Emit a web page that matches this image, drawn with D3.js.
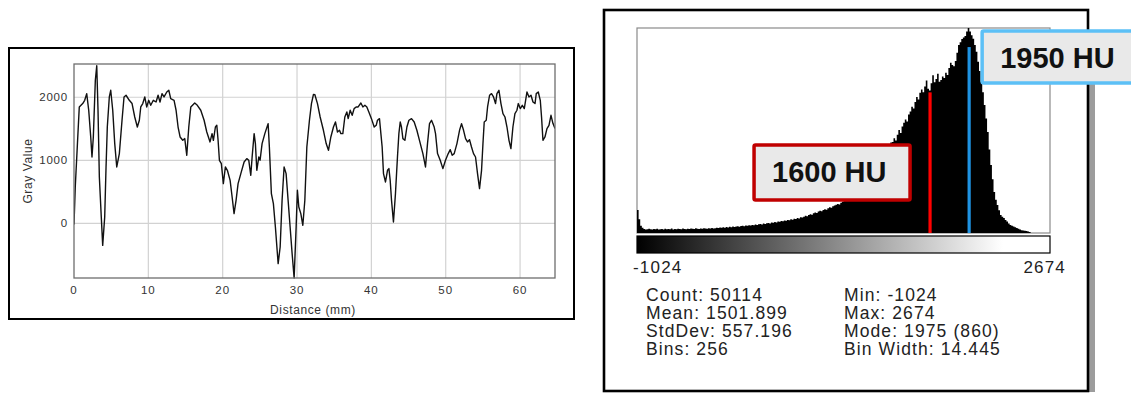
<!DOCTYPE html>
<html>
<head>
<meta charset="utf-8">
<script src="https://cdn.jsdelivr.net/npm/d3@7"></script>
<style>
  body { margin: 0; background: #fff; }
  svg { display: block; font-family: "Liberation Sans", Arial, sans-serif; }
</style>
</head>
<body>
<svg id="chart" width="1131" height="394"></svg>
<script>
// ---- line profile (left panel) ----
const distances = [
  0.00, 0.17, 0.44, 0.71, 1.17, 1.44, 1.71, 1.98, 2.25, 2.42, 2.60, 2.87, 3.06, 3.23, 3.41, 3.67, 3.86, 4.13, 4.31, 4.48,
  4.75, 4.94, 5.21, 5.48, 5.75, 6.10, 6.46, 6.73, 7.00, 7.44, 7.81, 8.17, 8.52, 8.79, 8.98, 9.25, 9.52, 9.78, 10.05, 10.32,
  10.67, 11.04, 11.31, 11.57, 11.84, 12.11, 12.48, 12.75, 13.01, 13.46, 13.73, 14.00, 14.27, 14.63, 14.90, 15.17, 15.44, 15.71, 16.24, 16.59,
  17.05, 17.50, 17.86, 18.30, 18.57, 18.75, 19.02, 19.21, 19.38, 19.56, 19.82, 20.09, 20.36, 20.63, 21.00, 21.27, 21.53, 21.80, 22.07, 22.44,
  22.88, 23.24, 23.51, 23.78, 23.96, 24.23, 24.40, 24.59, 24.86, 25.03, 25.30, 25.67, 26.11, 26.28, 26.55, 26.82, 27.09, 27.46, 27.73, 27.99,
  28.26, 28.53, 28.80, 29.07, 29.34, 29.61, 29.88, 30.05, 30.24, 30.51, 30.78, 31.05, 31.32, 31.67, 31.94, 32.21, 32.40, 32.75, 33.11, 33.55,
  33.92, 34.23, 34.55, 34.90, 35.17, 35.44, 35.71, 35.90, 36.16, 36.43, 36.70, 36.88, 37.15, 37.42, 37.68, 37.95, 38.22, 38.59, 38.86, 39.13,
  39.39, 39.66, 40.01, 40.38, 40.65, 40.82, 41.09, 41.28, 41.45, 41.63, 41.90, 42.17, 42.36, 42.53, 42.71, 42.97, 43.24, 43.51, 43.70, 43.88,
  44.05, 44.24, 44.51, 44.78, 45.05, 45.40, 45.76, 46.12, 46.47, 46.93, 47.28, 47.55, 47.82, 48.09, 48.45, 48.63, 48.90, 49.26, 49.62, 49.97,
  50.34, 50.61, 50.87, 51.14, 51.51, 51.86, 52.13, 52.40, 52.67, 52.93, 53.20, 53.47, 53.74, 54.01, 54.28, 54.55, 54.82, 55.01, 55.18, 55.45,
  55.63, 55.90, 56.16, 56.43, 56.70, 56.89, 57.16, 57.43, 57.70, 57.97, 58.24, 58.51, 58.77, 59.04, 59.31, 59.58, 59.76, 60.03, 60.30, 60.57,
  60.93, 61.20, 61.47, 61.74, 62.01, 62.18, 62.45, 62.72, 62.89, 63.08, 63.35, 63.62, 63.89, 64.16, 64.43, 64.70
];
const grayValues = [
  -20, 576, 1211, 1846, 1900, 1952, 2058, 1794, 1370, 1052, 1370, 2270, 2500, 1794, 735, 100, -350, 100, 894, 1528,
  2005, 2111, 1794, 1265, 894, 1106, 1635, 2005, 2032, 1952, 1900, 1687, 1528, 1635, 1846, 1900, 2005, 1846, 1952, 1873,
  1952, 1925, 2032, 1925, 2058, 2005, 2084, 2111, 1979, 1952, 1794, 1528, 1370, 1317, 1344, 1079, 1528, 1846, 1909, 1873,
  1794, 1635, 1449, 1291, 1423, 1317, 1528, 1555, 1317, 1000, 947, 630, 894, 841, 682, 417, 154, 365, 630, 789,
  973, 1026, 1000, 762, 1052, 1423, 1265, 841, 1052, 1000, 1265, 1423, 1582, 1211, 471, 312, -58, -640, -376, 365,
  894, 789, 365, -58, -481, -868, -58, 524, 259, 154, -32, 365, 1211, 1635, 1900, 2045, 2040, 1900, 1687, 1476,
  1265, 1159, 1370, 1528, 1608, 1449, 1476, 1423, 1423, 1687, 1767, 1661, 1794, 1714, 1820, 1846, 1846, 1909, 1846, 1873,
  1846, 1767, 1661, 1528, 1555, 1635, 1661, 1423, 1211, 789, 656, 841, 868, 682, 365, 21, 471, 1052, 1423, 1608,
  1528, 1344, 1317, 1528, 1635, 1661, 1608, 1476, 1317, 1106, 894, 1265, 1582, 1635, 1528, 1423, 1106, 1000, 868, 1000,
  1106, 1169, 1079, 1106, 1265, 1476, 1582, 1476, 1344, 1291, 1328, 1211, 1106, 1052, 789, 551, 841, 1265, 1608, 1635,
  1846, 2032, 2058, 2005, 1900, 2058, 2111, 1900, 1741, 1687, 1528, 1317, 1185, 1528, 1741, 1794, 1900, 1820, 1873, 1820,
  2084, 2005, 2032, 1925, 1900, 2058, 2084, 1952, 1687, 1317, 1370, 1503, 1555, 1714, 1582, 1503
];
const xTicks = [0, 10, 20, 30, 40, 50, 60];
const yTicks = [0, 1000, 2000];
const profileXLabel = "Distance (mm)";
const profileYLabel = "Gray Value";

// ---- histogram (right panel) ----
const histMin = -1024, histMax = 2674, binWidth = 14.445, histPeak = 860;
const binCounts = [
  96, 58, 30, 22,
  17, 15, 16, 18, 16, 15, 17, 16, 18, 15,
  16, 17, 15, 18, 16, 17, 16, 19, 15, 17,
  16, 18, 17, 16, 19, 17, 16, 18, 17, 19,
  18, 17, 20, 18, 17, 19, 18, 20, 19, 18,
  20, 19, 21, 19, 20, 22,
  21, 23, 22, 24, 22, 25, 23, 26, 24, 27, 25, 27,
  28, 26, 29, 30, 28, 31, 30, 33, 31, 34,
  33, 36, 34, 37, 38, 36, 40, 38, 41, 42,
  40, 44, 43, 46, 44, 48, 47, 50, 49, 52,
  51, 55, 53, 58, 56, 60, 59, 63, 61, 66, 65,
  68, 72, 70, 76, 79, 77, 83, 86, 84, 90,
  93, 91, 97, 100, 98, 104, 108, 106, 112, 115,
  118, 122, 120, 127, 131, 135, 139,
  143, 152, 160, 170, 179, 189, 196, 205, 214, 222,
  231, 242, 249, 260, 268, 279, 286, 298, 305, 316,
  323, 333, 340, 350, 357, 367, 372, 380,
  382, 398, 388, 412, 432, 420, 447, 462, 476, 468, 497, 510,
  530, 522, 550, 571, 560, 588, 602, 590, 615, 640,
  605, 598, 628, 662, 632, 646, 668, 634, 642, 657, 650, 672,
  663, 692, 714, 705, 700, 722, 756, 789,
  800, 814, 820, 826, 845, 860,
  845, 830, 815, 789, 760, 718, 680, 634, 590, 537,
  480, 424, 350, 285, 225, 172, 140, 117, 95, 76,
  68, 63, 55, 48, 40, 34, 30, 27, 24, 21, 18, 15, 12, 10, 9, 8, 6, 4,
  0, 0, 0, 0, 0, 0, 0, 0, 0, 0, 0, 0
];
const markerValues = [1600, 1950];
const markerCounts = [590, 780];
const markerLabels = ["1600 HU", "1950 HU"];
const rangeLabels = ["-1024", "2674"];
const statsLeft = ["Count: 50114", "Mean: 1501.899", "StdDev: 557.196", "Bins: 256"];
const statsRight = ["Min: -1024", "Max: 2674", "Mode: 1975 (860)", "Bin Width: 14.445"];

const svg = d3.select("#chart");

// ================= left: profile plot =================
const px = d3.scaleLinear().domain([0, 64.7]).range([74, 555]);
const py = d3.scaleLinear().domain([-868, 2528]).range([278, 64]);

svg.append("rect")
  .attr("x", 9).attr("y", 48).attr("width", 565).attr("height", 271)
  .attr("fill", "#fff").attr("stroke", "#000").attr("stroke-width", 2);

const grid = svg.append("g");
grid.selectAll(".vg").data(xTicks.slice(1)).enter().append("line")
  .attr("x1", d => px(d)).attr("x2", d => px(d))
  .attr("y1", py.range()[1]).attr("y2", py.range()[0])
  .attr("stroke", "#d2d2d2").attr("stroke-width", 1.2);
grid.selectAll(".hg").data(yTicks).enter().append("line")
  .attr("x1", px.range()[0]).attr("x2", px.range()[1])
  .attr("y1", d => py(d)).attr("y2", d => py(d))
  .attr("stroke", "#d2d2d2").attr("stroke-width", 1.2);

svg.append("clipPath").attr("id", "profClip").append("rect")
  .attr("x", 74).attr("y", 63).attr("width", 481).attr("height", 216);

const profile = distances.map((d, i) => [d, grayValues[i]]);
svg.append("path")
  .datum(profile)
  .attr("clip-path", "url(#profClip)")
  .attr("fill", "none").attr("stroke", "#111").attr("stroke-width", 1.4)
  .attr("stroke-linejoin", "round")
  .attr("d", d3.line().x(d => px(d[0])).y(d => py(d[1])));

svg.append("rect")
  .attr("x", 74).attr("y", 64).attr("width", 481).attr("height", 214)
  .attr("fill", "none").attr("stroke", "#6e6e6e").attr("stroke-width", 1.3);

svg.selectAll(".xt").data(xTicks).enter().append("text")
  .attr("x", d => px(d)).attr("y", 294)
  .attr("text-anchor", "middle").attr("font-size", 11.5).attr("letter-spacing", 1)
  .attr("fill", "#333").text(d => d);
svg.selectAll(".yt").data(yTicks).enter().append("text")
  .attr("x", 68).attr("y", d => py(d) + 4)
  .attr("text-anchor", "end").attr("font-size", 11.5).attr("letter-spacing", 0.8)
  .attr("fill", "#333").text(d => d);

svg.append("text")
  .attr("x", 313).attr("y", 314)
  .attr("text-anchor", "middle").attr("font-size", 12).attr("letter-spacing", 0.6)
  .attr("fill", "#333").text(profileXLabel);
svg.append("text")
  .attr("transform", "translate(32,171) rotate(-90)")
  .attr("text-anchor", "middle").attr("font-size", 12).attr("letter-spacing", 0.6)
  .attr("fill", "#333").text(profileYLabel);

// ================= right: histogram =================
const hx = d3.scaleLinear().domain([histMin, histMax]).range([637, 1050]);
const hy = d3.scaleLinear().domain([0, histPeak]).range([233, 28]);

svg.append("rect")
  .attr("x", 1089).attr("y", 32).attr("width", 6).attr("height", 360)
  .attr("fill", "#9c9c9c");
svg.append("rect")
  .attr("x", 604).attr("y", 10).attr("width", 484).attr("height", 381)
  .attr("fill", "#fff").attr("stroke", "#000").attr("stroke-width", 2.6);

svg.append("rect")
  .attr("x", 637).attr("y", 28).attr("width", 413).attr("height", 205)
  .attr("fill", "#fff").attr("stroke", "#8a8a8a").attr("stroke-width", 1.2);

// histogram drawn as one stepped area so neighbouring bins don't leave hairline gaps
const bins = binCounts.map((c, i) => ({ x0: histMin + i * binWidth, count: c }));
bins.push({ x0: histMin + binCounts.length * binWidth, count: 0 });
svg.append("path")
  .datum(bins)
  .attr("fill", "#000")
  .attr("d", d3.area().curve(d3.curveStepAfter)
    .x(d => hx(d.x0)).y0(hy(0)).y1(d => hy(d.count)));

const markerColors = ["#ff0000", "#1f93e2"];
svg.selectAll(".marker").data(markerValues).enter().append("line")
  .attr("x1", d => hx(d)).attr("x2", d => hx(d))
  .attr("y1", (d, i) => hy(markerCounts[i])).attr("y2", hy(0))
  .attr("stroke", (d, i) => markerColors[i]).attr("stroke-width", 3.2);

// grayscale bar
const defs = svg.append("defs");
const grad = defs.append("linearGradient").attr("id", "lut");
grad.append("stop").attr("offset", "0").attr("stop-color", "#000");
grad.append("stop").attr("offset", "0.886").attr("stop-color", "#fff");
grad.append("stop").attr("offset", "1").attr("stop-color", "#fff");
svg.append("rect")
  .attr("x", hx(histMin)).attr("y", 236).attr("width", hx(histMax) - hx(histMin)).attr("height", 17)
  .attr("fill", "url(#lut)").attr("stroke", "#000").attr("stroke-width", 1.2);

svg.append("text").attr("x", 633).attr("y", 273)
  .attr("font-size", 17).attr("letter-spacing", 1.2).attr("fill", "#222").text(rangeLabels[0]);
svg.append("text").attr("x", 1066).attr("y", 273).attr("text-anchor", "end")
  .attr("font-size", 17).attr("letter-spacing", 1.2).attr("fill", "#222").text(rangeLabels[1]);

const statsG = svg.append("g").attr("font-size", 17.5).attr("letter-spacing", 1.1).attr("fill", "#222");
statsG.selectAll(".sl").data(statsLeft).enter().append("text")
  .attr("x", 646).attr("y", (d, i) => 301 + i * 18).text(d => d);
statsG.selectAll(".sr").data(statsRight).enter().append("text")
  .attr("x", 844).attr("y", (d, i) => 301 + i * 18).text(d => d);

// value call-outs
const callouts = [
  { x: hx(markerValues[0]) - 176, y: 145, w: 156, h: 55, stroke: "#c00000", label: markerLabels[0] },
  { x: hx(markerValues[1]) + 13, y: 31, w: 170, h: 52, stroke: "#5cc0f6", label: markerLabels[1] }
];
const cg = svg.selectAll(".callout").data(callouts).enter().append("g");
cg.append("rect")
  .attr("x", d => d.x).attr("y", d => d.y).attr("width", d => d.w).attr("height", d => d.h)
  .attr("rx", 1.5)
  .attr("fill", "#e9e9e9").attr("stroke", d => d.stroke).attr("stroke-width", 3.5);
cg.append("text")
  .attr("x", d => d.x + 18).attr("y", d => d.y + 37)
  .attr("font-size", 29).attr("font-weight", "bold").attr("fill", "#111")
  .text(d => d.label);
</script>
</body>
</html>
